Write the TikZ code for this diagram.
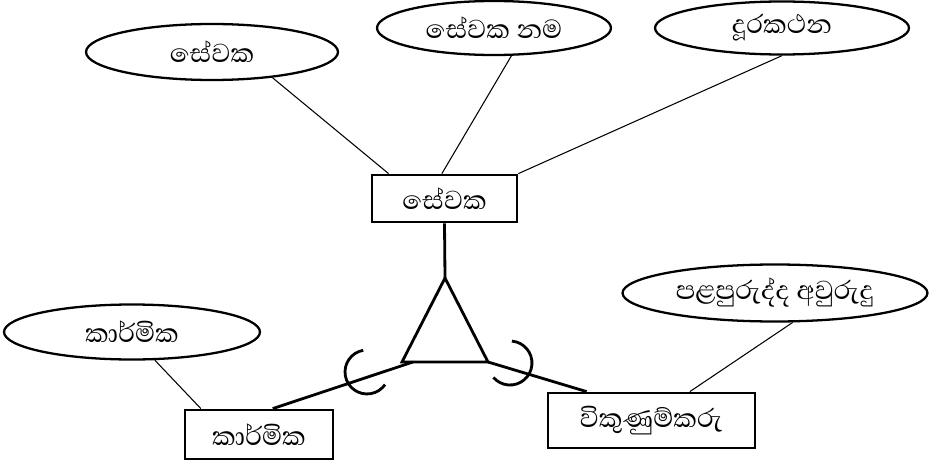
\documentclass[tikz,border=0pt]{standalone}
\usepackage{fontspec}
\newfontfamily\sinhalafont[Script=Sinhala]{Abhaya Libre}
\usetikzlibrary{shapes}

\begin{document}
\begin{tikzpicture}[x=0.02cm,y=-0.02cm]
 \tikzstyle{every node}=[font=\sinhalafont\fontsize{19}{22}\selectfont]

\tikzstyle{attrib}=[ellipse,draw,line width=1.3pt,inner sep=0pt]
\tikzstyle{entity}=[rectangle,draw,line width=1.6pt,inner sep=0pt]
\tikzstyle{attrline}=[line width=0.6pt]
\tikzstyle{relline}=[line width=1.6pt]

\useasboundingbox (0,0) rectangle (939,466);

%% Entities
\node [entity,minimum width=2.9cm,minimum height=0.94cm] (emp) at (444.5,198.5) {සේවක};
\node [entity,minimum width=2.96cm,minimum height=0.98cm] (mech) at (259,434.5) {කාර්මික};
\node [entity,minimum width=4.14cm,minimum height=1.1cm] (sales) at (651.5,420.5) {විකුණුම්කරු};

%% Attributes
\node [attrib,minimum width=5.04cm,minimum height=1.12cm] (empid) at (212,52) {සේවක};
\node [attrib,minimum width=4.68cm,minimum height=1.08cm] (empname) at (494,28) {සේවක නම};
\node [attrib,minimum width=5.08cm,minimum height=1.06cm] (phone) at (782,28) {දූරකථන};
\node [attrib,minimum width=5.12cm,minimum height=1.1cm] (skill) at (132,332) {කාර්මික};
\node [attrib,minimum width=6.1cm,minimum height=1.14cm] (years) at (775,293) {පළපුරුද්ද අවුරුදු};

\draw [attrline] (empid.-23) -- (emp.156);
\draw [attrline] (empname.-58) -- (emp.96);
\draw [attrline] (phone.south) -- (emp.north east);
\draw [attrline] (skill.-51) -- (mech.156);
\draw [attrline] (years.-59) -- (sales.37);

%% ISA triangle
\coordinate (tri-top) at (445,278);
\coordinate (tri-left) at (402,362);
\coordinate (tri-right) at (488,362);
\coordinate (tri-base) at (413,362);
\draw [relline,line join=miter] (tri-top) -- (tri-left) -- (tri-right) -- cycle;

\draw [relline] (emp.south) -- (tri-top);
\draw [relline] (tri-base) -- (mech.62);
\draw [relline] (tri-right) -- (sales.156);

%% subset arcs
\draw [relline] (363.2,350.3) arc [start angle=100,end angle=325,radius=0.44cm];
\draw [relline] (511.9,341.1) arc [start angle=85,end angle=-139,radius=0.44cm];

\end{tikzpicture}
\end{document}
